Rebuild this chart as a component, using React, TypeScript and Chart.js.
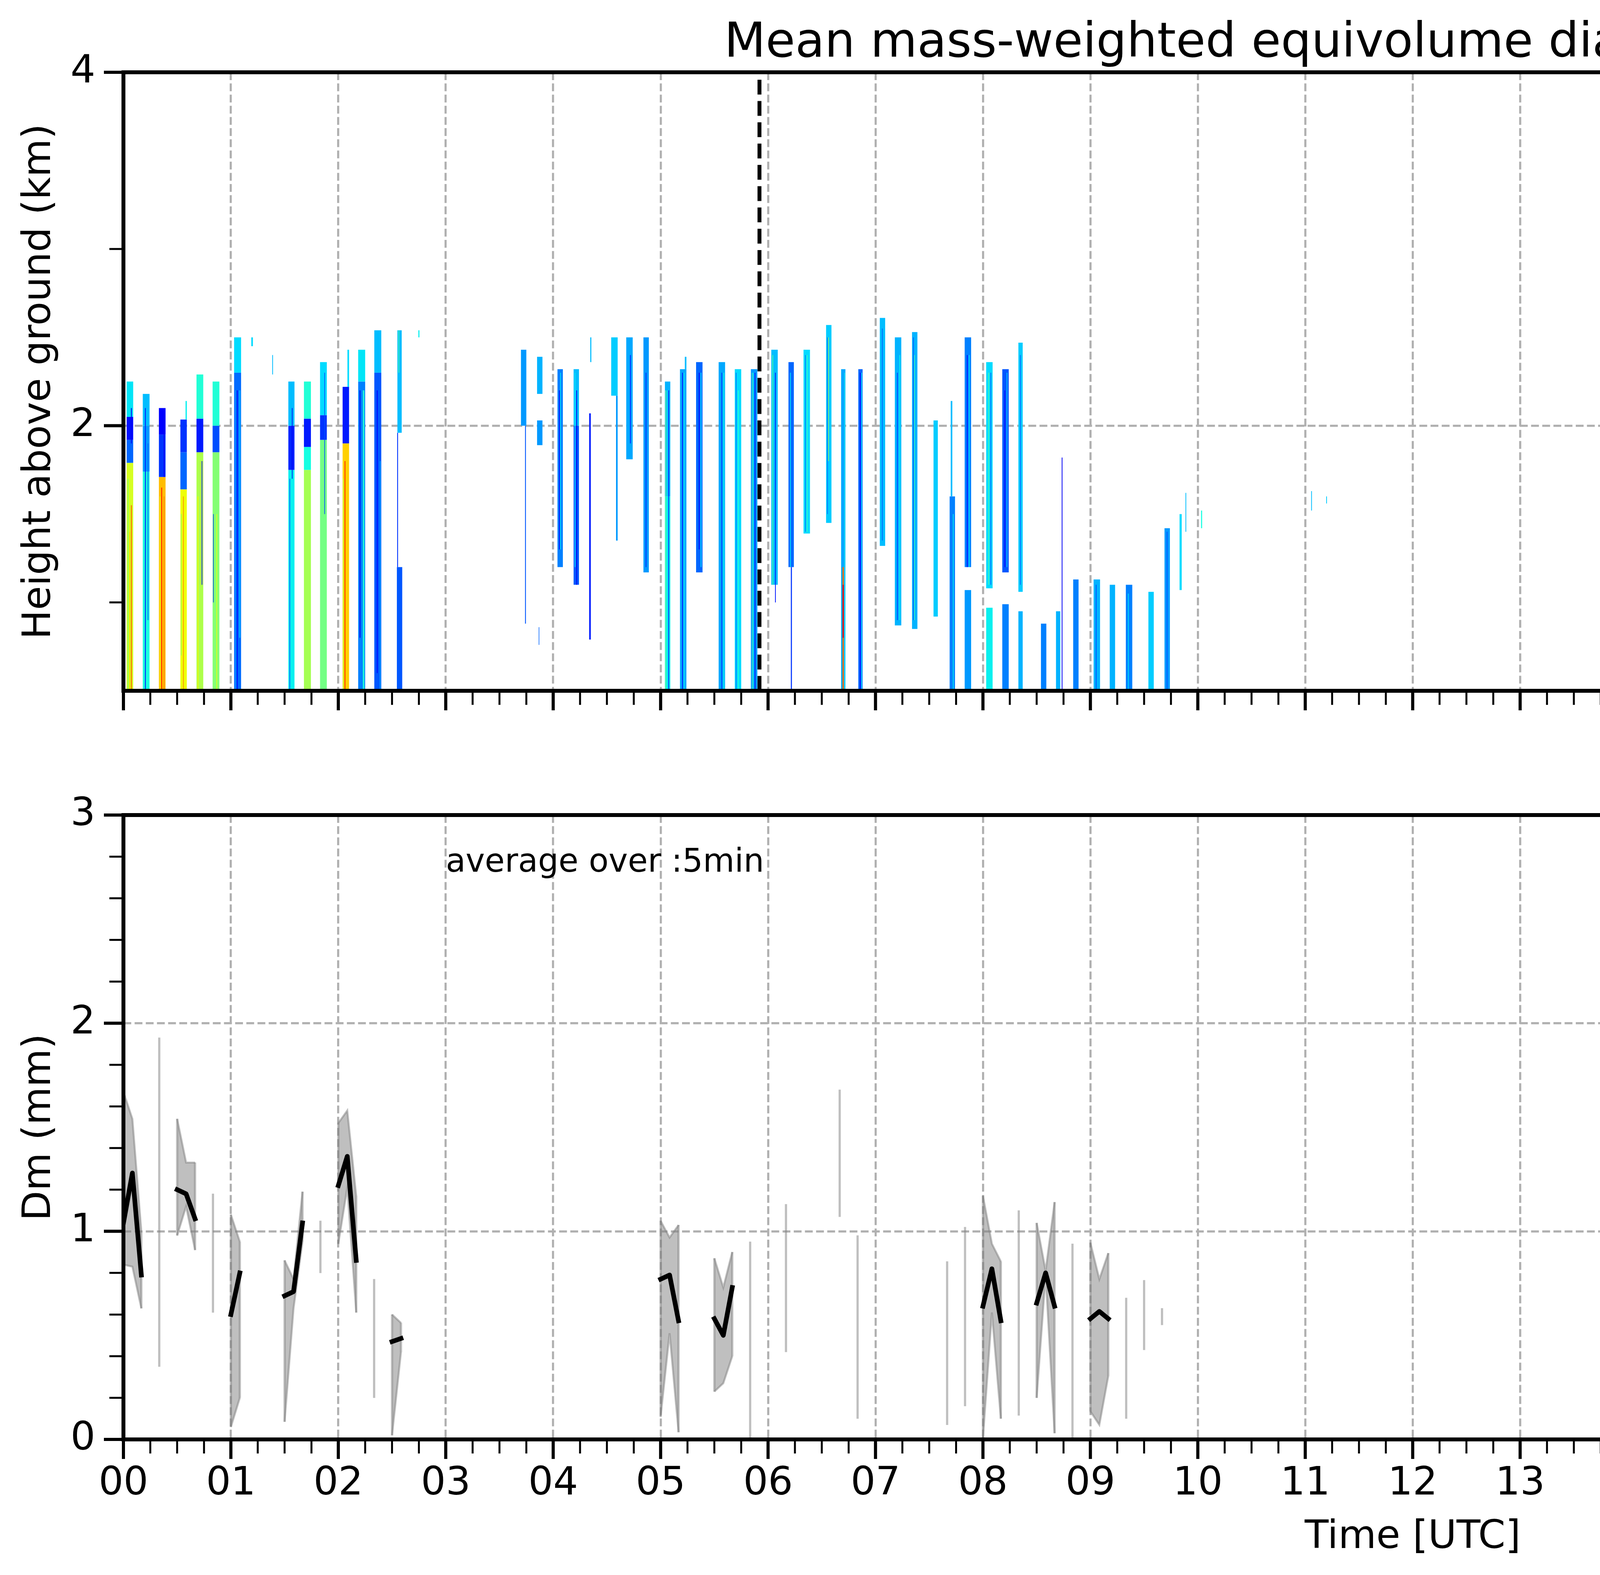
import { useEffect, useRef } from "react"
import { Chart, registerables } from "chart.js"

Chart.register(...registerables)

const FONT = "'DejaVu Sans', 'Liberation Sans', sans-serif"
Chart.defaults.font.family = FONT
Chart.defaults.color = "#000"

const GRID = "#b0b0b0"
const BAND = "rgba(128, 128, 128, 0.5)"
const NONE = "rgba(0, 0, 0, 0)"

// time axis labels (hours UTC)
const hourLabels = [
  "00", "01", "02", "03", "04", "05", "06", "07", "08", "09", "10", "11",
  "12", "13", "14", "15", "16", "17", "18", "19", "20", "21", "22", "23",
]
// height axis of the profile panel (km)
const heightTicks = [1, 2, 3, 4]
const heightLabels = [2, 4]
// colour bar ticks (mm)
const colorbarTicks = [0, 0.4, 0.8, 1.2, 1.6, 2.0]
// dashed markers (hours UTC)
const markerHours = [5.92, 15.97]
// grey strip at the end of the day (no data)
const noDataFrom = 23.89

// radar profiles: [start h, end h, [[base km, top km, Dm mm], ...]]
const radarColumns = [
  // 00 - 03 UTC
  [0.030, 0.091, [[0.50, 1.79, 1.22], [1.79, 1.92, 0.45], [1.92, 2.05, 0.28], [2.05, 2.25, 0.70]]],
  [0.040, 0.047, [[0.50, 1.70, 1.02]]],
  [0.055, 0.061, [[0.50, 1.40, 1.38]]],
  [0.070, 0.078, [[0.50, 1.55, 1.62], [1.90, 2.10, 0.20]]],
  [0.180, 0.243, [[0.50, 1.74, 0.76], [1.74, 2.00, 0.55], [2.00, 2.18, 0.62]]],
  [0.200, 0.208, [[0.50, 2.10, 0.32]]],
  [0.225, 0.232, [[0.90, 1.90, 0.45]]],
  [0.330, 0.392, [[0.50, 1.71, 1.42], [1.71, 1.95, 0.35], [1.95, 2.10, 0.25]]],
  [0.338, 0.344, [[0.50, 1.60, 1.25]]],
  [0.352, 0.360, [[0.50, 1.65, 1.75]]],
  [0.375, 0.382, [[0.50, 1.60, 1.55], [1.71, 2.07, 0.20]]],
  [0.530, 0.590, [[0.50, 1.64, 1.28], [1.64, 1.85, 0.45], [1.85, 2.035, 0.35]]],
  [0.578, 0.590, [[2.035, 2.14, 0.72]]],
  [0.535, 0.541, [[0.70, 1.50, 1.05]]],
  [0.555, 0.561, [[0.50, 1.60, 1.55]]],
  [0.680, 0.743, [[0.50, 1.85, 1.12], [1.85, 2.04, 0.30], [2.04, 2.29, 0.78]]],
  [0.690, 0.697, [[0.50, 1.60, 1.30]]],
  [0.728, 0.734, [[1.10, 1.80, 0.25]]],
  [0.830, 0.893, [[0.50, 1.85, 1.02], [1.85, 2.00, 0.40], [2.00, 2.25, 0.78]]],
  [0.835, 0.840, [[1.00, 1.50, 0.35]]],
  [0.865, 0.872, [[0.50, 1.50, 1.25]]],
  [1.030, 1.095, [[0.50, 2.30, 0.46], [2.30, 2.50, 0.68]]],
  [1.040, 1.046, [[0.50, 2.20, 0.55]]],
  [1.055, 1.063, [[0.50, 2.20, 0.22]]],
  [1.078, 1.088, [[0.80, 2.20, 0.62]]],
  [1.190, 1.205, [[2.45, 2.50, 0.68]]],
  [1.385, 1.392, [[2.29, 2.40, 0.62]]],
  [1.535, 1.592, [[0.50, 1.75, 0.72], [1.75, 2.00, 0.32], [2.00, 2.25, 0.62]]],
  [1.545, 1.552, [[0.50, 1.70, 0.45]]],
  [1.568, 1.574, [[1.70, 2.10, 0.20]]],
  [1.680, 1.745, [[0.50, 1.75, 1.10], [1.75, 1.88, 0.75], [1.88, 2.04, 0.30], [2.04, 2.25, 0.78]]],
  [1.830, 1.893, [[0.50, 1.92, 0.98], [1.92, 2.06, 0.35], [2.06, 2.36, 0.68]]],
  [1.870, 1.876, [[1.50, 2.30, 0.40]]],
  [2.040, 2.100, [[0.50, 1.90, 1.38], [1.90, 2.22, 0.30]]],
  [2.085, 2.100, [[2.22, 2.43, 0.68]]],
  [2.044, 2.050, [[0.50, 1.70, 1.15]]],
  [2.058, 2.066, [[0.50, 1.80, 1.72]]],
  [2.185, 2.250, [[0.50, 2.25, 0.50], [2.25, 2.43, 0.70]]],
  [2.198, 2.206, [[0.80, 2.20, 0.20]]],
  [2.228, 2.242, [[0.50, 2.20, 0.78]]],
  [2.335, 2.400, [[0.50, 2.30, 0.42], [2.30, 2.54, 0.62]]],
  [2.358, 2.366, [[0.60, 2.20, 0.22]]],
  [2.385, 2.395, [[0.50, 1.80, 0.55]]],
  [2.545, 2.595, [[0.50, 1.20, 0.42]]],
  [2.548, 2.556, [[1.20, 1.96, 0.35]]],
  [2.550, 2.590, [[1.96, 2.54, 0.62]]],
  [2.560, 2.566, [[2.30, 2.54, 0.90]]],
  [2.745, 2.755, [[2.50, 2.54, 0.72]]],
  // 03:40 - 05 UTC
  [3.700, 3.750, [[2.00, 2.43, 0.55]]],
  [3.738, 3.746, [[0.88, 2.00, 0.42]]],
  [3.850, 3.900, [[2.18, 2.39, 0.60], [1.89, 2.03, 0.55]]],
  [3.865, 3.870, [[0.76, 0.86, 0.45]]],
  [4.040, 4.090, [[1.20, 2.32, 0.50]]],
  [4.055, 4.062, [[1.30, 2.20, 0.22]]],
  [4.065, 4.072, [[1.30, 2.30, 0.70]]],
  [4.190, 4.240, [[1.10, 2.00, 0.42], [2.00, 2.32, 0.62]]],
  [4.200, 4.207, [[1.20, 2.30, 0.70]]],
  [4.215, 4.222, [[1.10, 2.20, 0.20]]],
  [4.335, 4.350, [[0.79, 2.07, 0.30]]],
  [4.345, 4.355, [[2.36, 2.50, 0.62]]],
  [4.540, 4.600, [[2.17, 2.50, 0.65]]],
  [4.585, 4.600, [[1.35, 2.17, 0.55]]],
  [4.680, 4.740, [[1.81, 2.50, 0.58]]],
  [4.715, 4.722, [[1.90, 2.40, 0.30]]],
  [4.840, 4.890, [[1.17, 2.50, 0.55]]],
  [4.860, 4.868, [[1.20, 2.30, 0.35]]],
  // 05 - 10 UTC
  [5.040, 5.090, [[0.50, 1.60, 0.72], [1.60, 2.25, 0.60]]],
  [5.045, 5.052, [[0.50, 2.20, 0.95]]],
  [5.060, 5.066, [[0.50, 2.20, 0.70]]],
  [5.072, 5.078, [[0.50, 2.20, 0.25]]],
  [5.180, 5.240, [[0.50, 2.32, 0.58]]],
  [5.225, 5.240, [[2.32, 2.39, 0.62]]],
  [5.200, 5.208, [[0.50, 2.30, 0.30]]],
  [5.215, 5.222, [[0.50, 2.30, 0.72]]],
  [5.330, 5.390, [[1.17, 2.36, 0.45]]],
  [5.355, 5.362, [[1.30, 2.30, 0.22]]],
  [5.372, 5.380, [[1.20, 2.30, 0.68]]],
  [5.540, 5.600, [[0.50, 2.36, 0.58]]],
  [5.565, 5.572, [[0.50, 2.30, 0.35]]],
  [5.585, 5.592, [[0.50, 2.30, 0.74]]],
  [5.690, 5.750, [[0.50, 2.32, 0.68]]],
  [5.700, 5.706, [[0.50, 2.30, 0.45]]],
  [5.720, 5.728, [[0.50, 2.20, 0.80]]],
  [5.840, 5.900, [[0.50, 2.32, 0.55]]],
  [5.850, 5.856, [[0.50, 2.30, 0.88]]],
  [5.862, 5.868, [[0.50, 2.30, 0.70]]],
  [5.875, 5.882, [[0.50, 2.30, 0.22]]],
  [6.030, 6.090, [[1.10, 2.43, 0.62]]],
  [6.040, 6.047, [[1.10, 2.40, 0.90]]],
  [6.065, 6.072, [[1.00, 2.30, 0.30]]],
  [6.190, 6.240, [[1.20, 2.36, 0.45]]],
  [6.205, 6.212, [[1.20, 2.30, 0.70]]],
  [6.212, 6.222, [[0.50, 1.20, 0.35]]],
  [6.330, 6.390, [[1.39, 2.43, 0.68]]],
  [6.345, 6.352, [[1.40, 2.40, 0.50]]],
  [6.360, 6.367, [[1.40, 2.40, 0.85]]],
  [6.540, 6.590, [[1.45, 2.57, 0.65]]],
  [6.550, 6.556, [[1.50, 2.50, 0.45]]],
  [6.560, 6.565, [[1.80, 2.50, 1.10]]],
  [6.680, 6.720, [[0.50, 2.32, 0.58]]],
  [6.710, 6.716, [[0.50, 2.30, 0.72]]],
  [6.693, 6.705, [[0.50, 1.20, 1.60], [0.80, 1.10, 1.80]]],
  [6.840, 6.880, [[0.50, 2.32, 0.45]]],
  [6.855, 6.862, [[0.50, 2.30, 0.22]]],
  [6.868, 6.875, [[0.50, 2.30, 0.70]]],
  [7.040, 7.090, [[1.32, 2.61, 0.62]]],
  [7.060, 7.067, [[1.35, 2.55, 0.45]]],
  [7.180, 7.240, [[0.87, 2.50, 0.60]]],
  [7.200, 7.207, [[0.90, 2.30, 0.35]]],
  [7.222, 7.230, [[0.90, 2.40, 0.72]]],
  [7.340, 7.390, [[0.85, 2.53, 0.60]]],
  [7.350, 7.356, [[0.90, 2.50, 0.40]]],
  [7.360, 7.366, [[0.90, 2.40, 0.85]]],
  [7.540, 7.580, [[0.92, 2.03, 0.65]]],
  [7.690, 7.740, [[0.50, 1.60, 0.50]]],
  [7.700, 7.715, [[1.60, 2.14, 0.62]]],
  [7.720, 7.727, [[0.50, 1.50, 0.72]]],
  [7.830, 7.890, [[0.50, 1.07, 0.55], [1.20, 2.50, 0.50]]],
  [7.850, 7.857, [[1.20, 2.40, 0.25]]],
  [7.870, 7.877, [[1.20, 2.40, 0.70]]],
  [8.030, 8.090, [[0.50, 0.97, 0.72], [1.08, 2.36, 0.68]]],
  [8.050, 8.056, [[1.10, 2.30, 0.90]]],
  [8.070, 8.077, [[1.10, 2.30, 0.45]]],
  [8.180, 8.240, [[0.50, 0.99, 0.50], [1.17, 2.32, 0.42]]],
  [8.200, 8.207, [[1.20, 2.20, 0.22]]],
  [8.220, 8.227, [[1.20, 2.30, 0.65]]],
  [8.330, 8.370, [[0.50, 0.95, 0.60], [1.06, 2.47, 0.65]]],
  [8.345, 8.352, [[1.10, 2.40, 0.45]]],
  [8.540, 8.590, [[0.50, 0.88, 0.50]]],
  [8.680, 8.720, [[0.50, 0.95, 0.60]]],
  [8.733, 8.740, [[0.50, 1.82, 0.20]]],
  [8.840, 8.890, [[0.50, 1.13, 0.50]]],
  [9.030, 9.090, [[0.50, 1.13, 0.60]]],
  [9.050, 9.057, [[0.50, 1.10, 0.40]]],
  [9.180, 9.230, [[0.50, 1.10, 0.60]]],
  [9.330, 9.390, [[0.50, 1.10, 0.50]]],
  [9.350, 9.357, [[0.50, 1.05, 0.70]]],
  [9.540, 9.590, [[0.50, 1.06, 0.65]]],
  [9.690, 9.740, [[0.50, 1.42, 0.55]]],
  [9.710, 9.717, [[0.50, 1.40, 0.40]]],
  [9.830, 9.850, [[1.07, 1.50, 0.68]]],
  [9.885, 9.892, [[1.40, 1.62, 0.62]]],
  [10.030, 10.040, [[1.42, 1.52, 0.75]]],
  [11.055, 11.062, [[1.52, 1.63, 0.62]]],
  [11.195, 11.202, [[1.56, 1.60, 0.65]]],
]

// 5-minute averages of Dm (mm); null breaks the line between rain spells
const binMinutes = [
  0, 5, 10, 15, 30, 35, 40, 45, 60, 65, 70, 90, 95, 100, 105, 120, 125, 130, 135, 150, 155, 160,
  300, 305, 310, 315, 330, 335, 340, 345, 480, 485, 490, 495, 510, 515, 520, 525, 540, 545, 550,
]
const dmMean = [
  1.04, 1.28, 0.79, null, 1.20, 1.18, 1.06, null, 0.60, 0.80, null, 0.69, 0.71, 1.04, null,
  1.22, 1.36, 0.86, null, 0.47, 0.485, null, 0.77, 0.79, 0.57, null, 0.58, 0.50, 0.73, null,
  0.64, 0.82, 0.57, null, 0.655, 0.80, 0.64, null, 0.58, 0.615, 0.58,
]
const dmLow = [
  0.84, 0.83, 0.63, null, 0.98, 1.12, 0.91, null, 0.06, 0.20, null, 0.085, 0.63, 0.95, null,
  0.94, 1.21, 0.61, null, 0.02, 0.42, null, 0.11, 0.51, 0.035, null, 0.23, 0.27, 0.40, null,
  0.005, 0.61, 0.10, null, 0.20, 0.79, 0.03, null, 0.135, 0.07, 0.305,
]
const dmHigh = [
  1.67, 1.54, 1.00, null, 1.54, 1.33, 1.33, null, 1.08, 0.95, null, 0.86, 0.77, 1.19, null,
  1.52, 1.58, 1.17, null, 0.60, 0.56, null, 1.05, 0.97, 1.03, null, 0.87, 0.73, 0.90, null,
  1.17, 0.94, 0.855, null, 1.04, 0.81, 1.14, null, 0.945, 0.77, 0.895,
]
// isolated 5-minute bins (only a min-max range)
const spikeMinutes = [20, 50, 110, 140, 350, 370, 400, 410, 460, 470, 500, 530, 560, 570, 580]
const spikeLow = [0.35, 0.61, 0.80, 0.20, 0.005, 0.42, 1.07, 0.10, 0.07, 0.16, 0.115, 0.005, 0.10, 0.43, 0.55]
const spikeHigh = [1.93, 1.18, 1.05, 0.77, 0.95, 1.13, 1.68, 0.98, 0.855, 1.02, 1.10, 0.94, 0.68, 0.765, 0.63]

// matplotlib "jet"
const JET_R = [[0, 0], [0.35, 0], [0.66, 1], [0.89, 1], [1, 0.5]]
const JET_G = [[0, 0], [0.125, 0], [0.375, 1], [0.64, 1], [0.91, 0], [1, 0]]
const JET_B = [[0, 0.5], [0.11, 1], [0.34, 1], [0.65, 0], [1, 0]]
const JET_STOPS = [0, 0.11, 0.125, 0.34, 0.35, 0.375, 0.64, 0.65, 0.66, 0.89, 0.91, 1]

function interp(pts: number[][], f: number) {
  for (let i = 1; i < pts.length; i++) {
    if (f <= pts[i][0]) {
      const [x0, y0] = pts[i - 1]
      const [x1, y1] = pts[i]
      return y0 + ((f - x0) / (x1 - x0)) * (y1 - y0)
    }
  }
  return pts[pts.length - 1][1]
}

function jet(dm: number) {
  const f = Math.min(1, Math.max(0, dm / 2))
  const c = (p: number[][]) => Math.round(interp(p, f) * 255)
  return `rgb(${c(JET_R)}, ${c(JET_G)}, ${c(JET_B)})`
}

const isWhole = (v: number) => Math.abs(v - Math.round(v)) < 1e-6

function drawText(ctx: CanvasRenderingContext2D, text: string, x: number, y: number, size: number,
  rotate = false, align: CanvasTextAlign = "center") {
  ctx.save()
  ctx.translate(x, y)
  if (rotate) ctx.rotate(-Math.PI / 2)
  ctx.font = `${size}px ${FONT}`
  ctx.fillStyle = "#000"
  ctx.textAlign = align
  ctx.textBaseline = "alphabetic"
  ctx.fillText(text, 0, 0)
  ctx.restore()
}

// frame, major/minor tick marks and free texts
function axesOverlay(majorY: (v: number) => boolean, decorate: (chart: any) => void) {
  return {
    id: "axesOverlay",
    afterDraw(chart: any) {
      const { ctx, chartArea: a } = chart
      const xs = chart.scales.x
      const ys = chart.scales.y
      ctx.save()
      ctx.strokeStyle = "#000"
      xs.ticks.forEach((t: any) => {
        const major = isWhole(t.value) && t.value < 24
        const px = xs.getPixelForValue(t.value)
        ctx.lineWidth = major ? 8 : 5
        ctx.beginPath()
        ctx.moveTo(px, a.bottom)
        ctx.lineTo(px, a.bottom + (major ? 50 : 36))
        ctx.stroke()
      })
      ys.ticks.forEach((t: any) => {
        const major = majorY(t.value)
        const py = ys.getPixelForValue(t.value)
        ctx.lineWidth = major ? 8 : 5
        ctx.beginPath()
        ctx.moveTo(a.left, py)
        ctx.lineTo(a.left - (major ? 50 : 36), py)
        ctx.stroke()
      })
      ctx.lineWidth = 10
      ctx.strokeRect(a.left, a.top, a.right - a.left, a.bottom - a.top)
      ctx.restore()
      decorate(chart)
    },
  }
}

const radarCells = {
  id: "radarCells",
  beforeDatasetsDraw(chart: any) {
    const { ctx, chartArea: a } = chart
    const xs = chart.scales.x
    const ys = chart.scales.y
    ctx.save()
    ctx.beginPath()
    ctx.rect(a.left, a.top, a.right - a.left, a.bottom - a.top)
    ctx.clip()
    ctx.fillStyle = "#d9d9d9"
    const g0 = xs.getPixelForValue(noDataFrom)
    ctx.fillRect(g0, a.top, xs.getPixelForValue(24) - g0, a.bottom - a.top)
    radarColumns.forEach(([t0, t1, layers]: any) => {
      const x0 = xs.getPixelForValue(t0)
      const w = Math.max(1.5, xs.getPixelForValue(t1) - x0)
      layers.forEach(([zb, zt, dm]: number[]) => {
        const y0 = ys.getPixelForValue(zt)
        ctx.fillStyle = jet(dm)
        ctx.fillRect(x0, y0, w, ys.getPixelForValue(zb) - y0)
      })
    })
    ctx.restore()
  },
}

const colorbarPlugin = {
  id: "colorbarPlugin",
  beforeDatasetsDraw(chart: any) {
    const { ctx, chartArea: a } = chart
    const ys = chart.scales.y
    const g = ctx.createLinearGradient(0, ys.getPixelForValue(0), 0, ys.getPixelForValue(2))
    JET_STOPS.forEach((f) => g.addColorStop(f, jet(f * 2)))
    ctx.fillStyle = g
    ctx.fillRect(a.left, a.top, a.right - a.left, a.bottom - a.top)
  },
  afterDraw(chart: any) {
    const { ctx, chartArea: a } = chart
    ctx.save()
    ctx.strokeStyle = "#000"
    ctx.lineWidth = 5
    ctx.strokeRect(a.left, a.top, a.right - a.left, a.bottom - a.top)
    ctx.restore()
    drawText(ctx, "Dm (mm)", a.right + 268, (a.top + a.bottom) / 2, 80, true)
  },
}

const hourGrid = (c: any) => {
  const v = c.tick ? c.tick.value : -1
  return isWhole(v) && v > 0 && v < 24 ? GRID : NONE
}

function timeAxis(height: number, showLabels: boolean) {
  return {
    type: "linear",
    min: 0,
    max: 24,
    offset: false,
    z: 1,
    afterFit: (s: any) => { s.height = height },
    ticks: {
      display: showLabels,
      stepSize: 0.25,
      autoSkip: false,
      maxRotation: 0,
      minRotation: 0,
      padding: 55,
      font: { size: 100 },
      color: "#000",
      callback: (v: any) => (isWhole(v) && v < 24 ? hourLabels[Math.round(v)] : ""),
    },
    grid: { color: hourGrid, lineWidth: 5.4, drawTicks: false, offset: false },
    border: { display: false, dash: [20, 8.6] },
  }
}

const baseOptions = {
  responsive: false,
  animation: false,
  devicePixelRatio: 1,
  events: [],
  plugins: { legend: { display: false }, tooltip: { enabled: false }, title: { display: false } },
}

function topConfig(): any {
  return {
    type: "line",
    data: {
      datasets: markerHours.map((h) => ({
        data: [{ x: h, y: 0.5 }, { x: h, y: 4 }],
        borderColor: "#000",
        borderWidth: 10,
        borderDash: [38, 16.5],
        pointRadius: 0,
        fill: false,
      })),
    },
    options: {
      ...baseOptions,
      layout: { padding: { top: 185, right: 73, left: 0, bottom: 0 } },
      scales: {
        x: timeAxis(115, false),
        y: {
          type: "linear",
          min: 0.5,
          max: 4,
          z: 1,
          afterFit: (s: any) => { s.width = 316 },
          afterBuildTicks: (s: any) => { s.ticks = heightTicks.map((v) => ({ value: v })) },
          ticks: {
            padding: 72,
            font: { size: 100 },
            color: "#000",
            callback: (v: any) => (heightLabels.includes(v) ? String(v) : ""),
          },
          grid: {
            color: (c: any) => (c.tick && c.tick.value === 2 ? GRID : NONE),
            lineWidth: 5.4,
            drawTicks: false,
          },
          border: { display: false, dash: [20, 8.6] },
        },
      },
    },
    plugins: [
      radarCells,
      axesOverlay((v) => heightLabels.includes(v), (chart) => {
        const { ctx, chartArea: a } = chart
        drawText(ctx, "Mean mass-weighted equivolume diameter on 20251030", (a.left + a.right) / 2, 145, 123)
        drawText(ctx, "Height above ground (km)", a.left - 188, (a.top + a.bottom) / 2, 100, true)
      }),
    ],
  }
}

function colorbarConfig(): any {
  return {
    type: "scatter",
    data: { datasets: [] },
    options: {
      ...baseOptions,
      layout: { padding: { top: 186, right: 0, left: 3, bottom: 115 } },
      scales: {
        x: { type: "linear", display: false, min: 0, max: 1 },
        y: {
          type: "linear",
          position: "right",
          min: 0,
          max: 2,
          afterFit: (s: any) => { s.width = 337 },
          afterBuildTicks: (s: any) => { s.ticks = colorbarTicks.map((v) => ({ value: v })) },
          ticks: {
            padding: 25,
            font: { size: 80 },
            color: "#000",
            callback: (v: any) => Number(v).toFixed(1),
          },
          grid: {
            drawOnChartArea: false,
            drawTicks: true,
            tickLength: 20,
            tickWidth: 5,
            tickColor: "#000",
            color: "#000",
          },
          border: { display: false },
        },
      },
    },
    plugins: [colorbarPlugin],
  }
}

function bottomConfig(): any {
  const pts = (vals: (number | null)[]) => binMinutes.map((m, i) => ({ x: m / 60, y: vals[i] }))
  const spikes = spikeMinutes.map((m, i) => ({ x: m / 60, y: [spikeLow[i], spikeHigh[i]] }))
  // closing edges of each shaded spell
  const edges = binMinutes.flatMap((m, i) => {
    if (dmLow[i] == null) return []
    const first = i === 0 || dmLow[i - 1] == null
    const last = i === binMinutes.length - 1 || dmLow[i + 1] == null
    return first || last ? [{ x: m / 60, y: [dmLow[i], dmHigh[i]] }] : []
  })
  return {
    type: "line",
    data: {
      datasets: [
        {
          data: pts(dmLow),
          borderColor: BAND,
          borderWidth: 5,
          pointRadius: 0,
          fill: false,
          spanGaps: false,
          order: 4,
        },
        {
          data: pts(dmHigh),
          borderColor: BAND,
          backgroundColor: BAND,
          borderWidth: 5,
          pointRadius: 0,
          fill: "-1",
          spanGaps: false,
          order: 3,
        },
        {
          type: "bar",
          data: edges,
          backgroundColor: BAND,
          barThickness: 5,
          grouped: false,
          order: 2,
        },
        {
          type: "bar",
          data: spikes,
          backgroundColor: BAND,
          barThickness: 5,
          grouped: false,
          order: 1,
        },
        {
          data: pts(dmMean),
          borderColor: "#000",
          borderWidth: 12,
          borderJoinStyle: "round",
          borderCapStyle: "square",
          pointRadius: 0,
          fill: false,
          spanGaps: false,
          order: 0,
        },
      ],
    },
    options: {
      ...baseOptions,
      layout: { padding: { top: 186, right: 73, left: 0, bottom: 0 } },
      scales: {
        x: timeAxis(347, true),
        y: {
          type: "linear",
          min: 0,
          max: 3,
          z: 1,
          afterFit: (s: any) => { s.width = 316 },
          ticks: {
            stepSize: 0.2,
            autoSkip: false,
            padding: 72,
            font: { size: 100 },
            color: "#000",
            callback: (v: any) => (isWhole(v) ? String(Math.round(v)) : ""),
          },
          grid: {
            color: (c: any) => {
              const v = c.tick ? c.tick.value : -1
              return isWhole(v) && v > 0 && v < 3 ? GRID : NONE
            },
            lineWidth: 5.4,
            drawTicks: false,
          },
          border: { display: false, dash: [20, 8.6] },
        },
      },
    },
    plugins: [
      axesOverlay((v) => isWhole(v), (chart) => {
        const { ctx, chartArea: a } = chart
        const xs = chart.scales.x
        const ys = chart.scales.y
        drawText(ctx, "Dm (mm)", a.left - 188, (a.top + a.bottom) / 2, 100, true)
        drawText(ctx, "Time [UTC]", (a.left + a.right) / 2, a.bottom + 278, 100)
        drawText(ctx, "average over :5min", xs.getPixelForValue(3), ys.getPixelForValue(2.7) - 15, 83, false, "left")
      }),
    ],
  }
}

export default function App() {
  const topRef = useRef<HTMLCanvasElement>(null)
  const barRef = useRef<HTMLCanvasElement>(null)
  const bottomRef = useRef<HTMLCanvasElement>(null)

  useEffect(() => {
    const charts: Chart[] = []
    if (topRef.current) charts.push(new Chart(topRef.current, topConfig()))
    if (barRef.current) charts.push(new Chart(barRef.current, colorbarConfig()))
    if (bottomRef.current) charts.push(new Chart(bottomRef.current, bottomConfig()))
    return () => {
      charts.forEach((c) => c.destroy())
    }
  }, [])

  return (
    <div style={{ position: "absolute", left: 0, top: 0, width: 7442, height: 4031, background: "#fff", overflow: "hidden" }}>
      <canvas ref={topRef} width={6990} height={1900} style={{ position: "absolute", left: 0, top: 0 }} />
      <canvas ref={barRef} width={452} height={1900} style={{ position: "absolute", left: 6990, top: 0 }} />
      <canvas ref={bottomRef} width={6990} height={2131} style={{ position: "absolute", left: 0, top: 1900 }} />
    </div>
  )
}
